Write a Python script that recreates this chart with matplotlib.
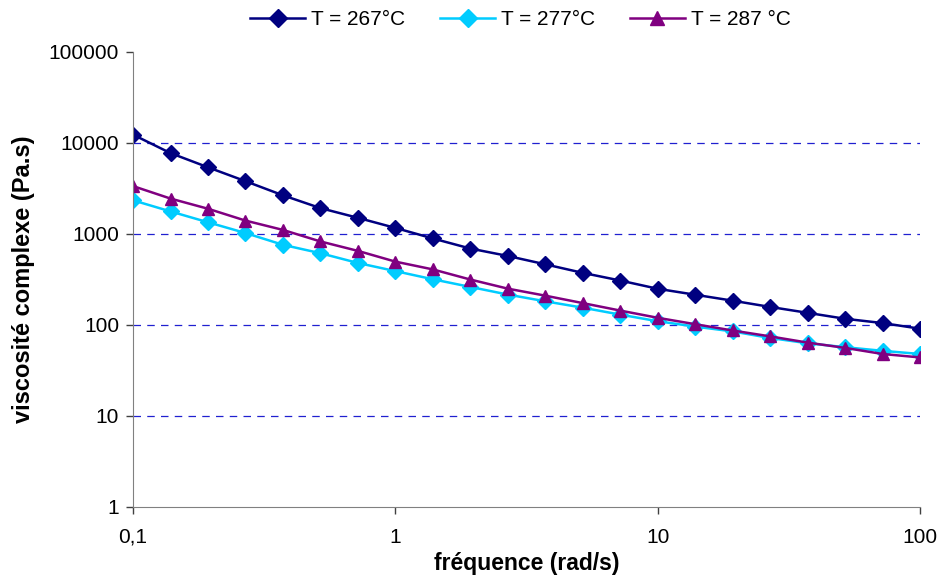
import numpy as np
import matplotlib.pyplot as plt
from matplotlib.ticker import FixedLocator, FixedFormatter, NullLocator

plt.rcParams['font.family'] = ['Liberation Sans', 'DejaVu Sans']

# fréquence (rad/s), 7 points par décade
freq = [0.1, 0.139, 0.193, 0.268, 0.373, 0.518, 0.72, 1.0,
        1.39, 1.93, 2.68, 3.73, 5.18, 7.2, 10.0,
        13.9, 19.3, 26.8, 37.3, 51.8, 72.0, 100.0]

eta_267 = [12350, 7740, 5410, 3810, 2660, 1925, 1505, 1166,
           893, 692, 574, 464, 374, 308, 250,
           215, 185, 158, 136, 117, 105, 91]
eta_277 = [2345, 1770, 1345, 1026, 760, 615, 480, 391,
           318, 262, 216, 182, 155, 130, 110,
           96, 85, 72, 63, 57, 52, 48]
eta_287 = [3360, 2450, 1895, 1405, 1108, 828, 652, 497,
           408, 316, 251, 210, 174, 144, 120,
           102, 87, 75, 64, 56, 48, 44]

x_ticks = [0.1, 1, 10, 100]
x_labels = ['0,1', '1', '10', '100']
y_ticks = [1, 10, 100, 1000, 10000, 100000]
y_labels = ['1', '10', '100', '1000', '10000', '100000']

fig = plt.figure(figsize=(9.38, 5.79), dpi=100)
ax = fig.add_axes([0.1418, 0.1244, 0.8390, 0.7858])

ax.plot(freq, eta_267, color='#000080', marker='D', markersize=8, lw=1.8, label='T = 267°C')
ax.plot(freq, eta_277, color='#00CCFF', marker='D', markersize=8, lw=1.8, label='T = 277°C')
ax.plot(freq, eta_287, color='#800080', marker='^', markersize=9, lw=1.8, label='T = 287 °C')

ax.set_xscale('log')
ax.set_yscale('log')
ax.set_xlim(0.1, 100)
ax.set_ylim(1, 100000)

ax.xaxis.set_major_locator(FixedLocator(x_ticks))
ax.xaxis.set_major_formatter(FixedFormatter(x_labels))
ax.xaxis.set_minor_locator(NullLocator())
ax.yaxis.set_major_locator(FixedLocator(y_ticks))
ax.yaxis.set_major_formatter(FixedFormatter(y_labels))
ax.yaxis.set_minor_locator(NullLocator())

for v in [10, 100, 1000, 10000]:
    ax.axhline(v, color='#2020D0', lw=0.9, ls=(0, (6, 5)), zorder=0)

for s in ['top', 'right']:
    ax.spines[s].set_visible(False)
ax.spines['left'].set_color('#808080')
ax.spines['bottom'].set_color('#808080')
ax.tick_params(axis='both', direction='out', length=5, width=1, color='#404040',
               labelsize=15, pad=5)
ax.tick_params(axis='x', pad=10)

ax.set_xlabel('fréquence (rad/s)', fontsize=16.5, fontweight='bold', labelpad=4)
ax.set_ylabel('viscosité complexe (Pa.s)', fontsize=17, fontweight='bold')
ax.yaxis.set_label_coords(-0.125, 0.5)

fig.legend(loc='upper center', bbox_to_anchor=(0.555, 1.015), ncol=3, frameon=False,
           fontsize=15, handlelength=2.6, columnspacing=1.7, handletextpad=0.3,
           markerscale=1.15)

fig.savefig('out.png', dpi=100)
